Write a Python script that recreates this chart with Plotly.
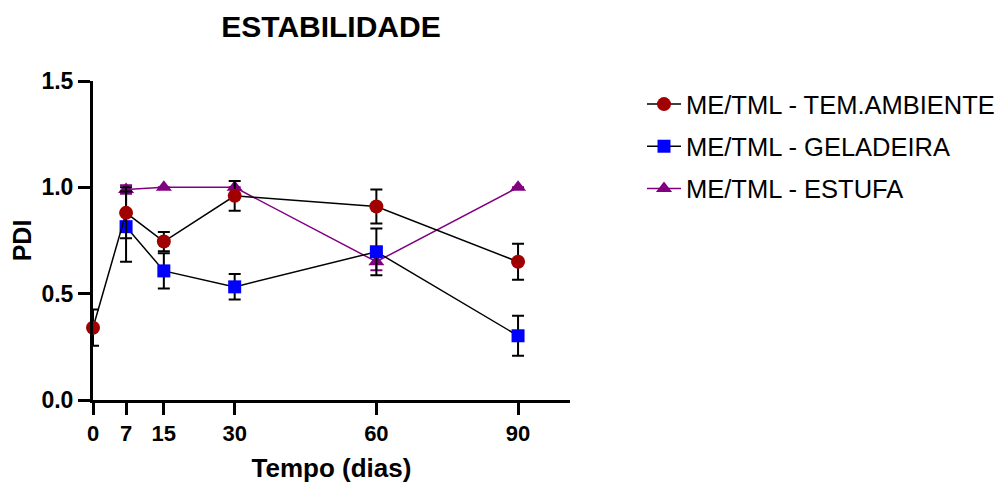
import plotly.graph_objects as go

# ---- data ----
days_amb = [0, 7, 15, 30, 60, 90]
pdi_amb = [0.34, 0.88, 0.745, 0.96, 0.91, 0.65]
err_amb = [0.085, 0.12, 0.045, 0.07, 0.08, 0.085]

days_gel = [7, 15, 30, 60, 90]
pdi_gel = [0.815, 0.607, 0.532, 0.697, 0.302]
err_gel = [0.165, 0.083, 0.06, 0.11, 0.094]

days_est = [7, 15, 30, 60, 90]
pdi_est = [0.99, 1.0, 1.0, 0.65, 1.0]
err_est = [0.02, 0.0, 0.0, 0.04, 0.0]

x_ticks = [0, 7, 15, 30, 60, 90]
y_ticks = [0, 0.5, 1.0, 1.5]
y_ticktext = ["0.0", "0.5", "1.0", "1.5"]

FONT = "Liberation Sans, Arial, sans-serif"

fig = go.Figure()

fig.add_trace(go.Scatter(
    x=days_est, y=pdi_est, name="ME/TML - ESTUFA", mode="lines+markers",
    line=dict(color="#800080", width=1.5),
    marker=dict(symbol="triangle-up", size=14, color="#800080"),
    error_y=dict(type="data", array=err_est, color="#800080", thickness=2, width=6),
    cliponaxis=False, legendgroup="c", legendrank=3,
))
fig.add_trace(go.Scatter(
    x=days_gel, y=pdi_gel, name="ME/TML - GELADEIRA", mode="lines+markers",
    line=dict(color="black", width=1.5),
    marker=dict(symbol="square", size=13, color="#0000ff"),
    error_y=dict(type="data", array=err_gel, color="black", thickness=2, width=6),
    cliponaxis=False, legendgroup="b", legendrank=2,
))
fig.add_trace(go.Scatter(
    x=days_amb, y=pdi_amb, name="ME/TML - TEM.AMBIENTE", mode="lines+markers",
    line=dict(color="black", width=1.5),
    marker=dict(symbol="circle", size=14, color="#a00000"),
    error_y=dict(type="data", array=err_amb, color="black", thickness=2, width=6),
    cliponaxis=False, legendgroup="a", legendrank=1,
))

fig.update_layout(
    width=1000, height=485,
    margin=dict(l=93, r=430, t=81, b=85, autoexpand=False),
    paper_bgcolor="white", plot_bgcolor="white",
    font=dict(family=FONT, color="black"),
    title=dict(text="ESTABILIDADE", x=331 / 1000, xanchor="center",
               y=1 - 26 / 485, yanchor="middle", automargin=False,
               font=dict(size=30, weight="bold", family=FONT, color="black")),
    showlegend=True,
    legend=dict(
        xref="container", yref="container", x=0.642, y=1 - 81 / 485,
        xanchor="left", yanchor="top",
        traceorder="grouped", tracegroupgap=6,
        font=dict(size=25.5, family=FONT, color="black"),
        bgcolor="rgba(0,0,0,0)", itemwidth=34,
    ),
    xaxis=dict(
        range=[0, 101], tickvals=x_ticks, ticktext=[str(v) for v in x_ticks],
        showline=True, linecolor="black", linewidth=3,
        ticks="outside", ticklen=12, tickwidth=3, tickcolor="black",
        showgrid=False, zeroline=False, automargin=False,
        tickfont=dict(size=22, weight="bold", family=FONT, color="black"),
        title=dict(text="Tempo (dias)", standoff=14,
                   font=dict(size=26, weight="bold", family=FONT, color="black")),
    ),
    yaxis=dict(
        range=[0, 1.5], tickvals=y_ticks, ticktext=y_ticktext,
        showline=True, linecolor="black", linewidth=3,
        ticks="outside", ticklen=12, tickwidth=3, tickcolor="black",
        showgrid=False, zeroline=False, automargin=False,
        tickfont=dict(size=23, weight="bold", family=FONT, color="black"),
        title=dict(text="PDI", standoff=3,
                   font=dict(size=25, weight="bold", family=FONT, color="black")),
    ),
)

fig.write_html("out.html", config={"displayModeBar": False},
               post_script="document.body.style.margin='0';document.body.style.overflow='hidden';")
